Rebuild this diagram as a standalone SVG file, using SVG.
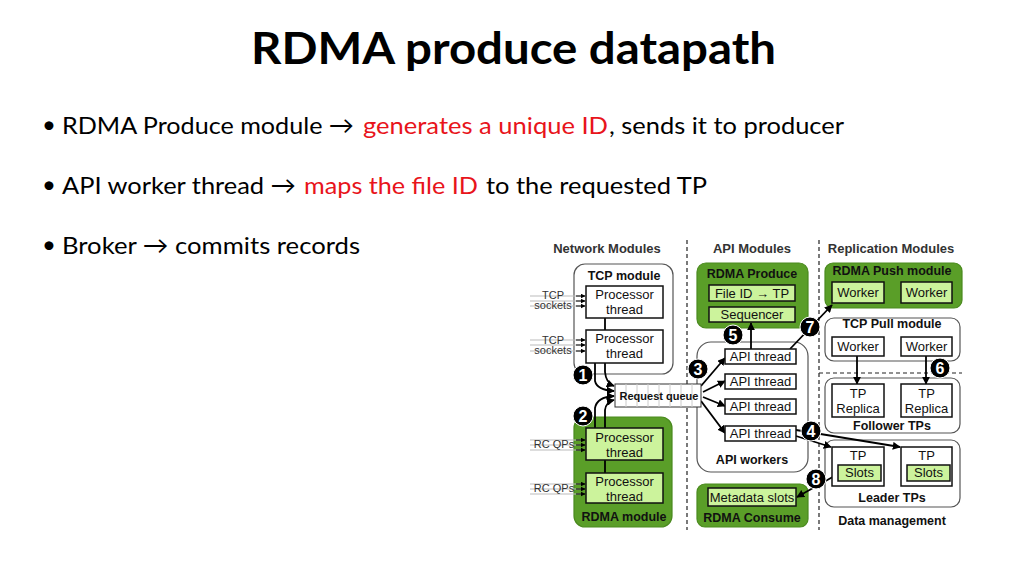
<svg xmlns="http://www.w3.org/2000/svg" width="1024" height="576" viewBox="0 0 1024 576">
<style>
.title{font-family:Lato,"Open Sans",sans-serif;font-weight:700;font-size:43px;fill:#000}
.bul{font-family:Lato,"Open Sans",sans-serif;font-size:24px;fill:#000}
.red{fill:#e8141b}
.hd{font-family:"Liberation Sans",Arial,sans-serif;font-weight:700;font-size:13px;fill:#333;text-anchor:middle}
.lbl{font-family:"Liberation Sans",Arial,sans-serif;font-weight:700;font-size:12.5px;fill:#111;text-anchor:middle}
.txt{font-family:"Liberation Sans",Arial,sans-serif;font-size:13px;fill:#111;text-anchor:middle}
.sm{font-family:"Liberation Sans",Arial,sans-serif;font-size:11px;fill:#333;text-anchor:middle}
.wmod{fill:#fff;stroke:#555;stroke-width:1.2}
.gmod{fill:#5a9e28;stroke:#4a8a1e;stroke-width:1.2}
.wbox{fill:#fff;stroke:#111;stroke-width:1.5}
.gbox{fill:#ccf39c;stroke:#111;stroke-width:1.5}
.sep{stroke:#222;stroke-width:1.2;stroke-dasharray:4 3;fill:none}
.ln{stroke:#000;stroke-width:1.8;fill:none}
.in{stroke:#bbb;stroke-width:1;fill:none}
.bd circle{fill:#000;stroke:#fff;stroke-width:1}
.bd text{font-family:"Liberation Sans",Arial,sans-serif;font-weight:700;font-size:16px;fill:#fff;text-anchor:middle}
</style>
<defs>
<marker id="ah" viewBox="0 0 10 10" refX="9" refY="5" markerWidth="5" markerHeight="5" orient="auto" markerUnits="userSpaceOnUse">
<path d="M0,0 L10,5 L0,10 z" fill="#000"/>
</marker>
<marker id="ahb" viewBox="0 0 10 10" refX="9" refY="5" markerWidth="8" markerHeight="8" orient="auto" markerUnits="userSpaceOnUse">
<path d="M0,0 L10,5 L0,10 z" fill="#000"/>
</marker>
</defs>
<rect width="1024" height="576" fill="#fff"/>

<text class="title" x="251" y="64" textLength="525" lengthAdjust="spacingAndGlyphs">RDMA produce datapath</text>

<g id="bullets">
<text class="bul" x="42" y="133">•</text>
<text class="bul" x="62" y="134" textLength="292" lengthAdjust="spacingAndGlyphs">RDMA Produce module →</text>
<text class="bul red" x="363" y="134" textLength="245" lengthAdjust="spacingAndGlyphs">generates a unique ID</text>
<text class="bul" x="609" y="134" textLength="235" lengthAdjust="spacingAndGlyphs">, sends it to producer</text>
<text class="bul" x="42" y="193">•</text>
<text class="bul" x="62" y="194" textLength="234" lengthAdjust="spacingAndGlyphs">API worker thread →</text>
<text class="bul red" x="304" y="194" textLength="174" lengthAdjust="spacingAndGlyphs">maps the file ID</text>
<text class="bul" x="486" y="194" textLength="221" lengthAdjust="spacingAndGlyphs">to the requested TP</text>
<text class="bul" x="42" y="253">•</text>
<text class="bul" x="62" y="254" textLength="298" lengthAdjust="spacingAndGlyphs">Broker → commits records</text>
</g>

<g id="headings">
<text class="hd" x="607" y="253">Network Modules</text>
<text class="hd" x="752" y="253">API Modules</text>
<text class="hd" x="891" y="253">Replication Modules</text>
<line class="sep" x1="687" y1="240" x2="687" y2="530"/>
<line class="sep" x1="819" y1="240" x2="819" y2="530"/>
<line class="sep" x1="819" y1="373" x2="962" y2="373"/>
</g>

<g id="tcp-module"><rect class="wmod" x="574" y="264" width="99" height="110" rx="11"/><text class="lbl" x="624" y="280">TCP module</text></g>
<g id="rdma-module"><rect class="gmod" x="574" y="417" width="98" height="110" rx="11"/><text class="lbl" x="624" y="521">RDMA module</text></g>
<g id="rdma-produce"><rect class="gmod" x="697" y="263" width="111" height="65" rx="9"/><text class="lbl" x="752" y="278">RDMA Produce</text></g>
<g id="api-workers"><rect class="wmod" x="697" y="342" width="111" height="130" rx="14"/><text class="lbl" x="752" y="464">API workers</text></g>
<g id="rdma-consume"><rect class="gmod" x="697" y="484" width="111" height="43" rx="8"/><text class="lbl" x="752" y="522">RDMA Consume</text></g>
<g id="rdma-push"><rect class="gmod" x="825" y="263" width="137" height="45" rx="8"/><text class="lbl" x="892" y="275">RDMA Push module</text></g>
<g id="tcp-pull"><rect class="wmod" x="825" y="318" width="135" height="43" rx="9"/><text class="lbl" x="892" y="328">TCP Pull module</text></g>
<g id="follower-tps"><rect class="wmod" x="825" y="378" width="135" height="55" rx="9"/><text class="lbl" x="892" y="430">Follower TPs</text></g>
<g id="leader-tps"><rect class="wmod" x="825" y="440" width="135" height="67" rx="9"/><text class="lbl" x="892" y="502">Leader TPs</text></g>
<g id="data-management"><text class="lbl" x="892" y="525">Data management</text></g>

<g id="connectors">
<g class="in">
<line x1="530" y1="296" x2="584" y2="296"/><line x1="530" y1="301" x2="584" y2="301"/><line x1="530" y1="306" x2="584" y2="306"/>
<line x1="530" y1="340" x2="584" y2="340"/><line x1="530" y1="345" x2="584" y2="345"/><line x1="530" y1="351" x2="584" y2="351"/>
<line x1="530" y1="440" x2="584" y2="440"/><line x1="530" y1="445" x2="584" y2="445"/><line x1="530" y1="450" x2="584" y2="450"/>
<line x1="530" y1="484" x2="584" y2="484"/><line x1="530" y1="489" x2="584" y2="489"/><line x1="530" y1="494" x2="584" y2="494"/>
</g>
<g stroke="#000" stroke-width="1" marker-end="url(#ah)">
<line x1="576" y1="296" x2="585" y2="296"/><line x1="576" y1="301" x2="585" y2="301"/><line x1="576" y1="306" x2="585" y2="306"/>
<line x1="576" y1="340" x2="585" y2="340"/><line x1="576" y1="345" x2="585" y2="345"/><line x1="576" y1="351" x2="585" y2="351"/>
<line x1="576" y1="440" x2="585" y2="440"/><line x1="576" y1="445" x2="585" y2="445"/><line x1="576" y1="450" x2="585" y2="450"/>
<line x1="576" y1="484" x2="585" y2="484"/><line x1="576" y1="489" x2="585" y2="489"/><line x1="576" y1="494" x2="585" y2="494"/>
</g>
<g class="ln" marker-end="url(#ahb)">
<path d="M605 318 V372 Q606 383 614 386"/>
<path d="M595 363 V381 Q597 390 614 391"/>
<path d="M595 428 V408 Q597 397 614 396"/>
<path d="M605 473 V410 Q606 402 614 400"/>
<line x1="701" y1="386" x2="725" y2="358"/>
<line x1="703" y1="392" x2="725" y2="381"/>
<line x1="703" y1="397" x2="725" y2="406"/>
<line x1="701" y1="401" x2="725" y2="433"/>
<line x1="751" y1="349" x2="751" y2="323"/>
<line x1="790" y1="349" x2="832" y2="305"/>
<line x1="796" y1="436" x2="831" y2="447"/>
<line x1="796" y1="430" x2="900" y2="447"/>
<line x1="857" y1="356" x2="857" y2="384"/>
<line x1="926" y1="356" x2="926" y2="384"/>
<line x1="838" y1="474" x2="797" y2="497"/>
</g>
</g>

<g id="input-labels">
<text class="sm" x="553" y="299">TCP</text><text class="sm" x="553" y="309">sockets</text>
<text class="sm" x="553" y="344">TCP</text><text class="sm" x="553" y="354">sockets</text>
<text class="sm" x="554" y="448">RC QPs</text><text class="sm" x="554" y="492">RC QPs</text>
</g>

<g id="tcp-proc1"><rect class="wbox" x="586" y="286" width="77" height="32"/><text class="txt" x="624.5" y="299">Processor</text><text class="txt" x="624.5" y="314">thread</text></g>
<g id="tcp-proc2"><rect class="wbox" x="586" y="330" width="77" height="33"/><text class="txt" x="624.5" y="343">Processor</text><text class="txt" x="624.5" y="358">thread</text></g>
<g id="rdma-proc1"><rect class="gbox" x="586" y="428" width="77" height="32"/><text class="txt" x="624.5" y="442">Processor</text><text class="txt" x="624.5" y="457">thread</text></g>
<g id="rdma-proc2"><rect class="gbox" x="586" y="473" width="77" height="30"/><text class="txt" x="624.5" y="486">Processor</text><text class="txt" x="624.5" y="501">thread</text></g>

<g id="request-queue">
<rect x="615" y="384" width="86" height="23" fill="#fff" stroke="#333" stroke-width="1"/>
<g stroke="#ccc" stroke-width="1">
<line x1="626" y1="384" x2="626" y2="407"/><line x1="637" y1="384" x2="637" y2="407"/><line x1="648" y1="384" x2="648" y2="407"/><line x1="659" y1="384" x2="659" y2="407"/><line x1="670" y1="384" x2="670" y2="407"/><line x1="681" y1="384" x2="681" y2="407"/><line x1="692" y1="384" x2="692" y2="407"/>
</g>
<text x="659" y="400" font-family="Liberation Sans,Arial,sans-serif" font-weight="700" font-size="11" text-anchor="middle" fill="#111">Request queue</text>
</g>

<g id="file-id-tp"><rect class="gbox" x="709" y="285" width="86" height="16"/><text class="txt" x="752" y="298">File ID → TP</text></g>
<g id="sequencer"><rect class="gbox" x="709" y="307" width="86" height="15"/><text class="txt" x="752" y="319">Sequencer</text></g>
<g id="api-thread1"><rect class="wbox" x="725" y="349" width="71" height="15"/><text class="txt" x="760.5" y="361">API thread</text></g>
<g id="api-thread2"><rect class="wbox" x="725" y="374" width="71" height="15"/><text class="txt" x="760.5" y="386">API thread</text></g>
<g id="api-thread3"><rect class="wbox" x="725" y="399" width="71" height="15"/><text class="txt" x="760.5" y="411">API thread</text></g>
<g id="api-thread4"><rect class="wbox" x="725" y="426" width="71" height="15"/><text class="txt" x="760.5" y="438">API thread</text></g>
<g id="metadata-slots"><rect class="gbox" x="708" y="488" width="88" height="18"/><text class="txt" x="752" y="502">Metadata slots</text></g>

<g id="push-worker1"><rect class="gbox" x="832" y="282" width="52" height="21"/><text class="txt" x="858" y="297">Worker</text></g>
<g id="push-worker2"><rect class="gbox" x="901" y="282" width="51" height="21"/><text class="txt" x="926.5" y="297">Worker</text></g>
<g id="pull-worker1"><rect class="wbox" x="832" y="337" width="52" height="19"/><text class="txt" x="858" y="351">Worker</text></g>
<g id="pull-worker2"><rect class="wbox" x="901" y="337" width="51" height="19"/><text class="txt" x="926.5" y="351">Worker</text></g>
<g id="tp-replica1"><rect class="wbox" x="832" y="384" width="52" height="33"/><text class="txt" x="858" y="398">TP</text><text class="txt" x="858" y="413">Replica</text></g>
<g id="tp-replica2"><rect class="wbox" x="901" y="384" width="51" height="33"/><text class="txt" x="926.5" y="398">TP</text><text class="txt" x="926.5" y="413">Replica</text></g>
<g id="tp-leader1"><rect class="wbox" x="832" y="447" width="52" height="39"/><text class="txt" x="858" y="460">TP</text><rect class="gbox" x="838" y="465" width="43" height="16"/><text class="txt" x="859.5" y="477">Slots</text></g>
<g id="tp-leader2"><rect class="wbox" x="901" y="447" width="51" height="39"/><text class="txt" x="926.5" y="460">TP</text><rect class="gbox" x="907" y="465" width="43" height="16"/><text class="txt" x="928.5" y="477">Slots</text></g>

<g id="badges" class="bd">
<g><circle cx="583" cy="375" r="10"/><text x="583" y="381">1</text></g>
<g><circle cx="583" cy="416" r="10"/><text x="583" y="422">2</text></g>
<g><circle cx="698" cy="369" r="10"/><text x="698" y="375">3</text></g>
<g><circle cx="811" cy="431" r="10"/><text x="811" y="437">4</text></g>
<g><circle cx="733" cy="335" r="10"/><text x="733" y="341">5</text></g>
<g><circle cx="940" cy="368" r="10"/><text x="940" y="374">6</text></g>
<g><circle cx="810" cy="327" r="10"/><text x="810" y="333">7</text></g>
<g><circle cx="816" cy="479" r="10"/><text x="816" y="485">8</text></g>
</g>
</svg>
